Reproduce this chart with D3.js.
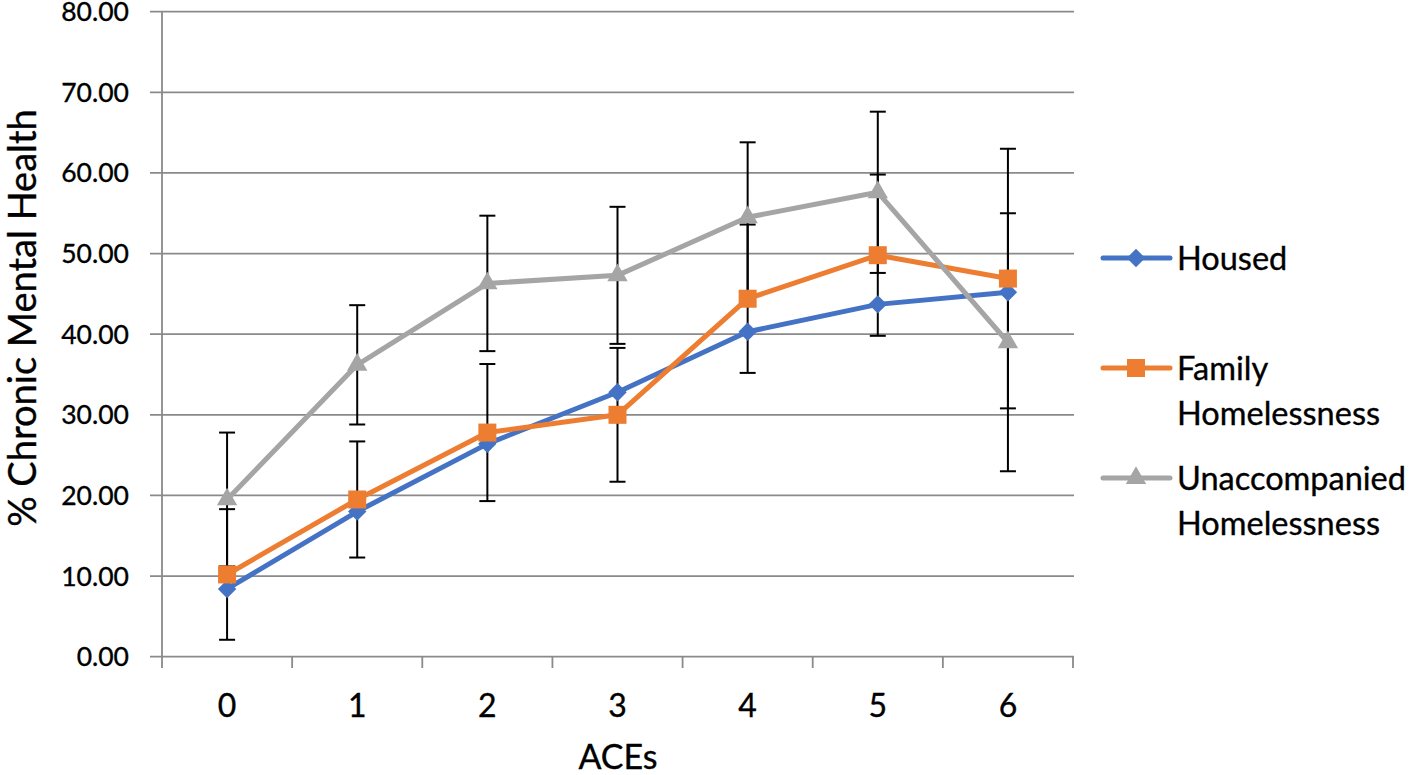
<!DOCTYPE html>
<html><head><meta charset="utf-8">
<script src="https://cdn.jsdelivr.net/npm/d3@7"></script>
<style>body{margin:0;background:#fff}svg{display:block}text{font-family:Lato,"Open Sans",sans-serif;fill:#000;stroke:#000;stroke-width:0.35px}</style>
</head><body><svg id="c" width="1418" height="775"></svg>
<script>
const categories = ["0","1","2","3","4","5","6"];
const housed = [8.4, 18.0, 26.4, 32.8, 40.3, 43.7, 45.2];
const family = [10.2, 19.5, 27.8, 30.0, 44.4, 49.8, 46.9];
const unaccompanied = [19.5, 36.2, 46.3, 47.3, 54.5, 57.6, 39.0];
const familyErr = [8.1, 7.2, 8.5, 8.3, 9.2, 10.0, 16.1];
const unaccompaniedErr = [8.3, 7.4, 8.4, 8.5, 9.3, 10.0, 16.0];
const yTicks = [0,10,20,30,40,50,60,70,80];
const seriesNames = ["Housed", "Family Homelessness", "Unaccompanied Homelessness"];

const svg = d3.select("#c");
const x = d3.scaleBand().domain(categories).range([162, 1073]);
const y = d3.scaleLinear().domain([0, 80]).range([656.7, 11.7]);
const cx = d => x(d) + x.bandwidth()/2;

// gridlines
svg.append("g").selectAll("line").data(yTicks).join("line")
  .attr("x1", 150).attr("x2", 1074).attr("y1", d=>y(d)).attr("y2", d=>y(d))
  .attr("stroke", "#8a8a8a").attr("stroke-width", 1.8);
// y axis line
svg.append("line").attr("x1",162).attr("x2",162).attr("y1",y(80)).attr("y2",668)
  .attr("stroke","#8a8a8a").attr("stroke-width",1.8);
// x ticks at band boundaries
const bounds = categories.map(c=>x(c)).concat([x(categories[6])+x.bandwidth()]);
svg.append("g").selectAll("line").data(bounds.slice(1)).join("line")
  .attr("x1", d=>d).attr("x2", d=>d).attr("y1", y(0)).attr("y2", 668)
  .attr("stroke","#8a8a8a").attr("stroke-width",1.8);
// y labels
svg.append("g").selectAll("text").data(yTicks).join("text")
  .attr("x", 129).attr("y", d=>y(d)).attr("dy","0.36em").attr("text-anchor","end")
  .style("font-size","26.5px").text(d=>d.toFixed(2));
// x labels
svg.append("g").selectAll("text").data(categories).join("text")
  .attr("x", d=>cx(d)).attr("y", 717).attr("text-anchor","middle")
  .style("font-size","32px").text(d=>d);
svg.append("text").attr("x", 618).attr("y", 769).attr("text-anchor","middle")
  .style("font-size","34px").text("ACEs");
svg.append("text").attr("transform","translate(36,318) rotate(-90)").attr("text-anchor","middle")
  .style("font-size","38px").text("% Chronic Mental Health");

// error bars
function errBars(vals, errs){
  const g = svg.append("g").attr("stroke","#000").attr("stroke-width",2);
  categories.forEach((c,i)=>{
    const lo = y(vals[i]-errs[i]), hi = y(vals[i]+errs[i]), xc = cx(c);
    g.append("line").attr("x1",xc).attr("x2",xc).attr("y1",lo).attr("y2",hi);
    g.append("line").attr("x1",xc-8).attr("x2",xc+8).attr("y1",lo).attr("y2",lo);
    g.append("line").attr("x1",xc-8).attr("x2",xc+8).attr("y1",hi).attr("y2",hi);
  });
}
errBars(family, familyErr);
errBars(unaccompanied, unaccompaniedErr);

const colors = ["#4472C4", "#ED7D31", "#A5A5A5"];
const data = [housed, family, unaccompanied];
const line = d3.line().x((d,i)=>cx(categories[i])).y(d=>y(d));
function marker(sel, k){
  if (k===0) {
    sel.attr("d", d3.symbol().type(d3.symbolSquare).size(170)())
      .attr("transform", function(){ return d3.select(this).attr("transform") + " rotate(45)"; });
  } else if (k===1) {
    sel.attr("d", d3.symbol().type(d3.symbolSquare).size(324)());
  } else {
    sel.attr("d", d3.symbol().type(d3.symbolTriangle).size(180)());
  }
  return sel.attr("fill", colors[k]);
}
data.forEach((vals,k)=>{
  svg.append("path").datum(vals).attr("d", line).attr("fill","none")
    .attr("stroke", colors[k]).attr("stroke-width",5).attr("stroke-linejoin","round");
  svg.append("g").selectAll("path").data(vals).join("path")
    .attr("transform",(d,i)=>`translate(${cx(categories[i])},${y(d)})`)
    .call(sel=>marker(sel,k));
});

// legend
const leg = [{y:258, lines:["Housed"]},{y:368, lines:["Family","Homelessness"]},{y:478, lines:["Unaccompanied","Homelessness"]}];
leg.forEach((L,k)=>{
  svg.append("line").attr("x1",1103).attr("x2",1170).attr("y1",L.y).attr("y2",L.y)
    .attr("stroke",colors[k]).attr("stroke-width",5).attr("stroke-linecap","round");
  svg.append("path").attr("transform",`translate(1136,${L.y})`).call(sel=>marker(sel,k));
  L.lines.forEach((t,j)=>{
    svg.append("text").attr("x",1177).attr("y",L.y+j*45).attr("dy","0.36em")
      .style("font-size","32.5px").text(t);
  });
});
</script></body></html>
